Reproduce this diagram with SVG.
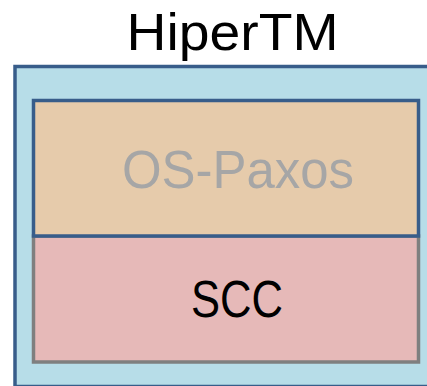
<svg xmlns="http://www.w3.org/2000/svg" width="427" height="386" viewBox="0 0 427 386">
<style>
text{font-family:"Liberation Sans",Arial,sans-serif;text-anchor:middle}
</style>
<rect width="427" height="386" fill="#ffffff"/>
<g id="hipertm">
<rect x="15" y="66.5" width="420" height="320" fill="#b7dde8" stroke="#385d8a" stroke-width="3.5"/>
<text x="232.5" y="50" font-size="52" fill="#000000" textLength="212" lengthAdjust="spacingAndGlyphs">HiperTM</text>
</g>
<g id="scc">
<rect x="33.5" y="236" width="385" height="126" fill="#e6b9b8" stroke="#7f7f7f" stroke-width="3.5"/>
<text x="237" y="317" font-size="52" fill="#000000" textLength="92" lengthAdjust="spacingAndGlyphs">SCC</text>
</g>
<g id="os-paxos">
<rect x="33.5" y="100.5" width="385" height="135.5" fill="#e6cbab" stroke="#385d8a" stroke-width="3.5"/>
<text x="238" y="188" font-size="53" fill="#a6a6a6" textLength="232" lengthAdjust="spacingAndGlyphs">OS-Paxos</text>
</g>
<g id="connectors"></g>
</svg>
